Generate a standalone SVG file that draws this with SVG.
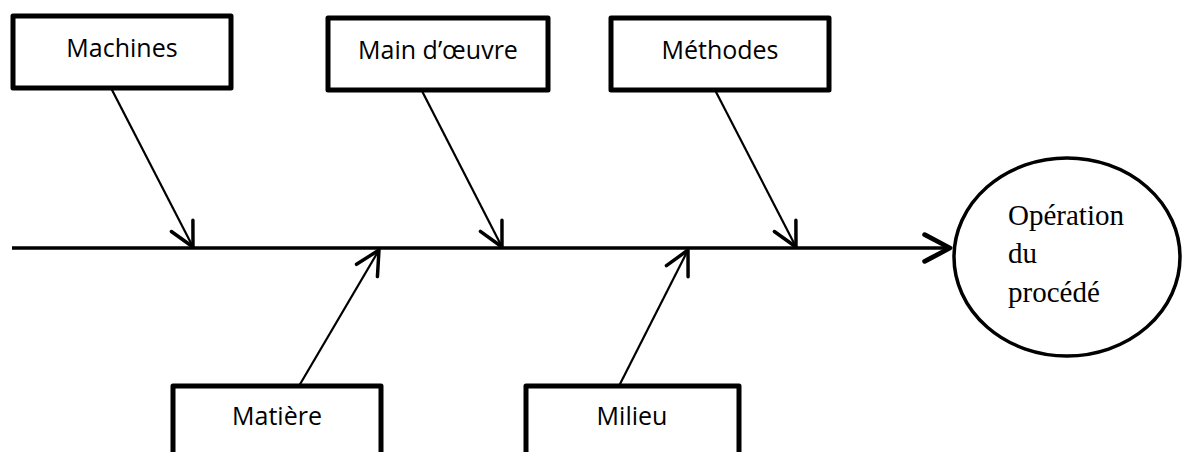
<svg xmlns="http://www.w3.org/2000/svg" width="1186" height="452" viewBox="0 0 1186 452">
<style>
.box{fill:#fff;stroke:#000;stroke-width:5;stroke-linejoin:round}
.lbl{font-family:"Open Sans","Liberation Sans",sans-serif;font-size:25px;fill:#000;text-anchor:middle}
.conn{stroke:#000;stroke-width:2.2;fill:none}
.spine{stroke:#000;stroke-width:3.5;fill:none}
.serif{font-family:"Liberation Serif","Times New Roman",serif;font-size:29px;fill:#000}
</style>
<defs>
<marker id="ah" markerUnits="userSpaceOnUse" orient="auto" refX="0" refY="0" markerWidth="40" markerHeight="40" viewBox="-25 -15 30 30" overflow="visible">
<path d="M -17.8 -9.1 L 0 0 L -17.8 9.1" fill="none" stroke="#000" stroke-width="2.6" stroke-linecap="round" stroke-linejoin="round"/>
</marker>
<marker id="ahBig" markerUnits="userSpaceOnUse" orient="auto" refX="0" refY="0" markerWidth="40" markerHeight="40" viewBox="-25 -15 30 30" overflow="visible">
<path d="M -19 -10 L 0 0 L -19 10" fill="none" stroke="#000" stroke-width="3.6" stroke-linecap="round" stroke-linejoin="round"/>
</marker>
</defs>
<g id="connectors">
<line class="spine" x1="12" y1="248" x2="950" y2="248" marker-end="url(#ahBig)"/>
<line class="conn" x1="111" y1="88" x2="193" y2="247" marker-end="url(#ah)"/>
<line class="conn" x1="422" y1="91" x2="502" y2="247" marker-end="url(#ah)"/>
<line class="conn" x1="715" y1="90" x2="796" y2="247" marker-end="url(#ah)"/>
<line class="conn" x1="299" y1="386" x2="379" y2="250" marker-end="url(#ah)"/>
<line class="conn" x1="619" y1="386" x2="688" y2="250" marker-end="url(#ah)"/>
</g>
<g id="machines">
<rect class="box" x="13" y="16" width="218" height="72"/>
<text class="lbl" x="122" y="57">Machines</text>
</g>
<g id="main-oeuvre">
<rect class="box" x="328" y="18" width="220" height="72"/>
<text class="lbl" x="438" y="59">Main d’œuvre</text>
</g>
<g id="methodes">
<rect class="box" x="611" y="18" width="218" height="72"/>
<text class="lbl" x="720" y="59">Méthodes</text>
</g>
<g id="matiere">
<rect class="box" x="173" y="386" width="208" height="80"/>
<text class="lbl" x="277" y="425">Matière</text>
</g>
<g id="milieu">
<rect class="box" x="526" y="386" width="213" height="80"/>
<text class="lbl" x="632" y="425">Milieu</text>
</g>
<g id="operation">
<ellipse cx="1067" cy="257" rx="113" ry="99" fill="#fff" stroke="#000" stroke-width="3.5"/>
<text class="serif" x="1008" y="225">Opération</text>
<text class="serif" x="1008" y="263">du</text>
<text class="serif" x="1008" y="302">procédé</text>
</g>
</svg>
